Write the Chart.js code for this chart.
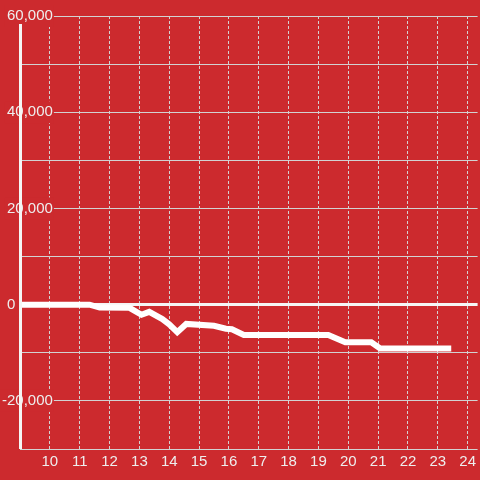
<!DOCTYPE html>
<html>
<head>
<meta charset="utf-8">
<script src="https://cdn.jsdelivr.net/npm/chart.js@4"></script>
<style>
html,body{margin:0;padding:0;background:#cc2a2e;}
canvas{display:block;}
</style>
</head>
<body>
<canvas id="c" width="480" height="480"></canvas>
<script>
// Data (hours of day vs cumulative value)
const hours  = [9, 11.33, 11.67, 12.67, 13.07, 13.33, 13.77, 14.0, 14.27, 14.57, 15.5, 15.9, 16.1, 16.5, 19.33, 19.9, 20.77, 21.07, 23.45];
const values = [0, 0, -600, -650, -2100, -1500, -3000, -4100, -5700, -4000, -4400, -5000, -5100, -6300, -6300, -7800, -7800, -9100, -9100];

// Axis ticks
const xTickValues = [10, 11, 12, 13, 14, 15, 16, 17, 18, 19, 20, 21, 22, 23, 24];
const yLabelValues = [60000, 40000, 20000, 0, -20000];
const xMin = 9, xMax = 24.3333;
const yMin = -30000, yMax = 60000, yStep = 10000;

const BG = '#cc2a2e';
const GRID = '#d2d2d2';
const TEXT = '#eeeeee';
const FONT = {size: 15, family: "'Liberation Sans', Arial, sans-serif"};

const points = hours.map((h, i) => ({x: h, y: values[i]}));

const axisLine = {
  id: 'axisLine',
  afterDraw(chart) {
    const {ctx, chartArea: a} = chart;
    ctx.save();
    ctx.strokeStyle = '#f5f5f5';
    ctx.lineWidth = 3;
    ctx.beginPath();
    ctx.moveTo(a.left + 0.5, a.top + 8);
    ctx.lineTo(a.left + 0.5, a.bottom);
    ctx.stroke();
    ctx.restore();
  }
};

new Chart(document.getElementById('c'), {
  type: 'line',
  data: {
    datasets: [{
      data: points,
      borderColor: '#ffffff',
      borderWidth: 6,
      pointRadius: 0,
      tension: 0,
      fill: false,
      borderJoinStyle: 'miter',
      borderCapStyle: 'butt'
    }]
  },
  options: {
    responsive: false,
    animation: false,
    layout: {padding: {top: 16, bottom: 5, left: 0, right: 0}},
    plugins: {legend: {display: false}, tooltip: {enabled: false}},
    scales: {
      x: {
        type: 'linear',
        min: xMin,
        max: xMax,
        afterBuildTicks: s => { s.ticks = xTickValues.map(v => ({value: v})); },
        grid: {color: GRID, lineWidth: 1, drawTicks: false, borderDash: [3, 2]},
        border: {display: false, dash: [3, 2]},
        ticks: {color: TEXT, font: FONT, padding: 4, maxRotation: 0, autoSkip: false}
      },
      y: {
        min: yMin,
        max: yMax,
        afterFit: s => { s.width = 20; },
        grid: {
          drawTicks: false,
          color: c => c.tick && c.tick.value === 0 ? '#f5f5f5' : GRID,
          lineWidth: c => c.tick && c.tick.value === 0 ? 3 : 1
        },
        border: {display: false},
        ticks: {
          stepSize: yStep,
          autoSkip: false,
          mirror: true,
          crossAlign: 'far',
          padding: -18,
          color: TEXT,
          font: FONT,
          callback: v => !yLabelValues.includes(v) ? '' : (v === 0 ? '0         ' : v.toLocaleString('en-US')),
          showLabelBackdrop: c => !!(c.tick && c.tick.value !== 0 && yLabelValues.includes(c.tick.value)),
          backdropColor: BG,
          backdropPadding: {top: 2, bottom: 2, left: 2, right: 1}
        }
      }
    }
  },
  plugins: [axisLine]
});
</script>
</body>
</html>
